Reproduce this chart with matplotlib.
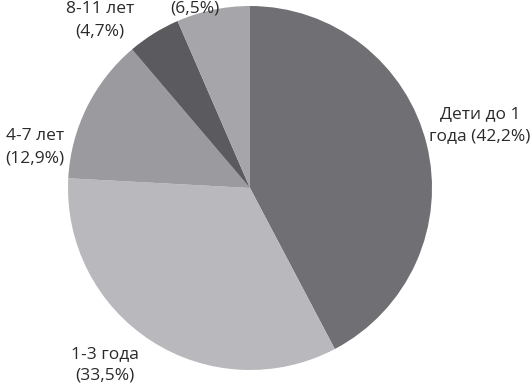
import matplotlib
matplotlib.use("Agg")
import matplotlib.pyplot as plt

categories = ["Дети до 1\nгода", "1-3 года", "4-7 лет", "8-11 лет", ""]
values = [42.2, 33.5, 12.9, 4.7, 6.5]
labels = ["Дети до 1\nгода (42,2%)", "1-3 года\n(33,5%)", "4-7 лет\n(12,9%)", "8-11 лет\n(4,7%)", "(6,5%)"]
colors = ["#707074", "#b9b9bd", "#9b9b9f", "#5b5b5f", "#a6a6aa"]

W, H = 530, 389
fig = plt.figure(figsize=(W / 100, H / 100), dpi=100)
ax = fig.add_axes([0, 0, 1, 1])

ax.pie(values, colors=colors, startangle=90, counterclock=False,
       center=(250, H - 188), radius=182, frame=True,
       wedgeprops=dict(linewidth=0))
ax.set_xlim(0, W)
ax.set_ylim(0, H)
ax.set_aspect("equal")
ax.axis("off")

label_pos = [(480, 125), (105, 365), (35, 147), (100, 20), (195, 8)]
for lab, (px, py) in zip(labels, label_pos):
    ax.text(px, H - py, lab, ha="center", va="center", fontsize=12.5,
            family="Open Sans", color="#2a2a2a", linespacing=1.5)

fig.savefig("out.png", dpi=100)
